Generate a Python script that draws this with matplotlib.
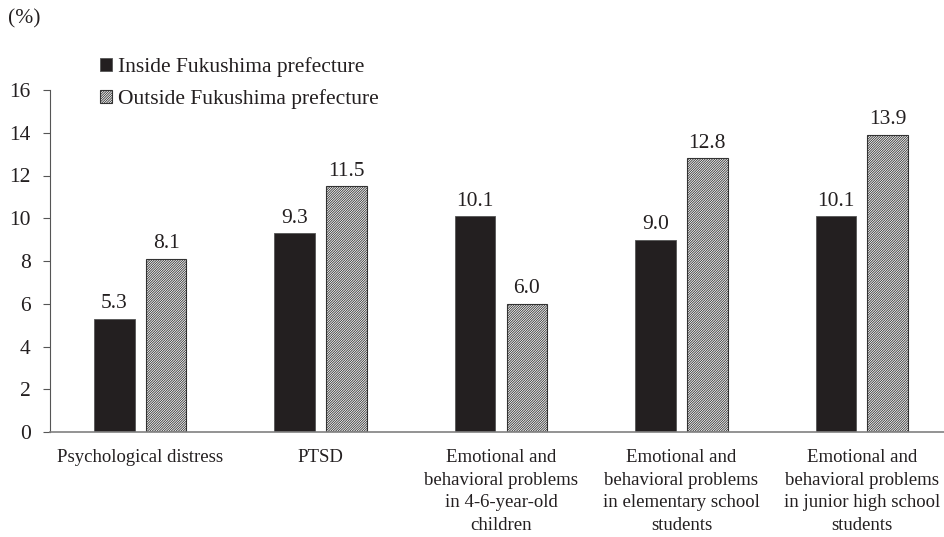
import matplotlib
matplotlib.use('Agg')
from matplotlib import pyplot as plt
import numpy as np

plt.rcParams['font.family'] = ['Liberation Serif', 'DejaVu Serif']
plt.rcParams['hatch.linewidth'] = 0.6

categories = [
    'Psychological distress',
    'PTSD',
    'Emotional and\nbehavioral problems\nin 4-6-year-old\nchildren',
    'Emotional and\nbehavioral problems\nin elementary school\nstudents',
    'Emotional and\nbehavioral problems\nin junior high school\nstudents',
]
inside = [5.3, 9.3, 10.1, 9.0, 10.1]
outside = [8.1, 11.5, 6.0, 12.8, 13.9]
yticks = [0, 2, 4, 6, 8, 10, 12, 14, 16]

txt = '#231f20'
fs = 15.5
fs_cat = 13.5

fig = plt.figure(figsize=(9.44, 5.37), dpi=100)
ax = fig.add_axes([50/944, 105/537, 902/944, 342/537])

x = np.arange(len(categories))
w = 0.225
off = 0.144

b1 = ax.bar(x - off, inside, w, color=txt, edgecolor='#555555', linewidth=0.6,
            label='Inside Fukushima prefecture')
b2 = ax.bar(x + off, outside, w, color='white', edgecolor='#333333', linewidth=0.8,
            hatch='/' * 14, label='Outside Fukushima prefecture')

for bars, vals in ((b1, inside), (b2, outside)):
    for r, v in zip(bars, vals):
        ax.annotate('%.1f' % v, (r.get_x() + r.get_width()/2, v),
                    xytext=(0, 4), textcoords='offset points',
                    ha='center', va='bottom', fontsize=fs, color=txt)

ax.set_xlim(-0.5, 4.5)
ax.set_ylim(0, 16)
ax.set_yticks(yticks)
ax.set_xticks(x)
ax.set_xticklabels(categories, fontsize=fs_cat, color=txt, linespacing=1.45)
ax.tick_params(axis='x', length=0, pad=12)
ax.tick_params(axis='y', direction='out', length=5, width=0.8, color='#555555',
               pad=9, labelsize=fs, labelcolor=txt)

for s in ('top', 'right'):
    ax.spines[s].set_visible(False)
ax.spines['left'].set_color('#555555')
ax.spines['left'].set_linewidth(0.8)
ax.spines['bottom'].set_color('#808080')
ax.spines['bottom'].set_linewidth(1.2)

fig.text(8/944, 1 - 19/537, '(%)', fontsize=fs, color=txt, va='center', ha='left')

fig.legend(loc='upper left', bbox_to_anchor=(89/944, 1 - 46/537), frameon=False,
           fontsize=fs, borderpad=0, handlelength=0.55, handleheight=0.55,
           handletextpad=0.3, labelspacing=0.6, labelcolor=txt)

fig.savefig('out.png', dpi=100)
